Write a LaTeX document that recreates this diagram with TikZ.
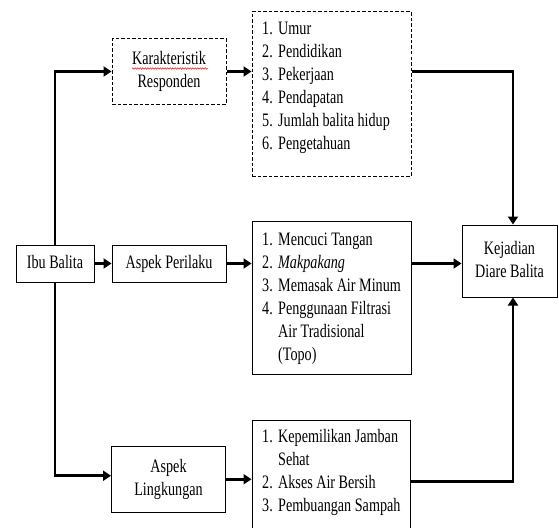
\documentclass[tikz,border=0pt]{standalone}
\usepackage{fontspec}
\setmainfont{Liberation Serif}[FakeStretch=0.745]
\usetikzlibrary{arrows.meta,decorations.pathmorphing}
\begin{document}
\begin{tikzpicture}[x=1pt,y=-1pt,
  txt/.style={font=\fontsize{19pt}{23pt}\selectfont},
  box/.style={txt,draw,line width=1pt,inner sep=0pt,align=center,
    text height=13pt,text depth=4pt},
  box2/.style={box,text height=36pt},
  dbox/.style={box2,dash pattern=on 3.5pt off 2pt},
  item/.style={txt,anchor=base west,inner sep=0pt},
  conn/.style={line width=2.6pt},
  arr/.style={conn,-{Triangle[length=8pt,width=10pt]}}]
\clip (0,0) rectangle (559,527);
\fill[white] (0,0) rectangle (559,527);
% boxes
\node[dbox,minimum width=114pt,minimum height=65pt] (kar) at (169,71.5) {Karakteristik\\Responden};
\node[dbox,minimum width=159pt,minimum height=164pt] (list1) at (331.5,94) {};
\node[box,minimum width=78pt,minimum height=37pt] (ibu) at (55,263.5) {Ibu Balita};
\node[box,minimum width=114pt,minimum height=37pt] (perilaku) at (169,263.5) {Aspek Perilaku};
\node[box,minimum width=159pt,minimum height=153pt] (list2) at (331.5,297.5) {};
\node[box2,minimum width=95pt,minimum height=72pt] (kej) at (509.5,261) {Kejadian\\Diare Balita};
\node[box2,minimum width=114pt,minimum height=66.5pt] (ling) at (168.5,479.25) {Aspek\\Lingkungan};
\node[box,minimum width=158pt,minimum height=125pt] (list3) at (331,482.5) {};
% spell-check underline
\draw[red,line width=0.5pt,decorate,decoration={snake,amplitude=0.7pt,segment length=2.5pt}] (132,68.5) -- (208,68.5);
% list 1
\node[item] (a1) at (262,34.7) {\makebox[16pt][l]{1.}Umur};
\node[item] (a2) at (262,57.7) {\makebox[16pt][l]{2.}Pendidikan};
\node[item] (a3) at (262,80.7) {\makebox[16pt][l]{3.}Pekerjaan};
\node[item] (a4) at (262,103.7) {\makebox[16pt][l]{4.}Pendapatan};
\node[item] (a5) at (262,126.7) {\makebox[16pt][l]{5.}Jumlah balita hidup};
\node[item] (a6) at (262,149.7) {\makebox[16pt][l]{6.}Pengetahuan};
% list 2
\node[item] (b1) at (262,245.7) {\makebox[16pt][l]{1.}Mencuci Tangan};
\node[item] (b2) at (262,268.7) {\makebox[16pt][l]{2.}\textit{Makpakang}};
\node[item] (b3) at (262,291.7) {\makebox[16pt][l]{3.}Memasak Air Minum};
\node[item] (b4) at (262,314.7) {\makebox[16pt][l]{4.}Penggunaan Filtrasi};
\node[item] (b5) at (262,337.7) {\makebox[16pt][l]{}Air Tradisional};
\node[item] (b6) at (262,360.7) {\makebox[16pt][l]{}(Topo)};
% list 3
\node[item] (c1) at (262,442.7) {\makebox[16pt][l]{1.}Kepemilikan Jamban};
\node[item] (c2) at (262,465.7) {\makebox[16pt][l]{}Sehat};
\node[item] (c3) at (262,488.7) {\makebox[16pt][l]{2.}Akses Air Bersih};
\node[item] (c4) at (262,511.7) {\makebox[16pt][l]{3.}Pembuangan Sampah};
% connectors
\coordinate (rx) at (513,0);
\draw[arr] (ibu.north) |- (kar.west);
\draw[arr] (ibu.south) |- ([yshift=3.5pt]ling.west);
\draw[arr] (ibu.east) -- (perilaku.west);
\draw[arr] (kar.east) -- (kar.east -| list1.west);
\draw[arr] (perilaku.east) -- (perilaku.east -| list2.west);
\draw[arr] (ling.east) -- (ling.east -| list3.west);
\draw[arr] (kar.east -| list1.east) -| (rx |- kej.north);
\draw[arr] (perilaku.east -| list2.east) -- (perilaku.east -| kej.west);
\draw[arr] ([yshift=-2pt]ling.east -| list3.east) -| (rx |- kej.south);
\end{tikzpicture}
\end{document}
